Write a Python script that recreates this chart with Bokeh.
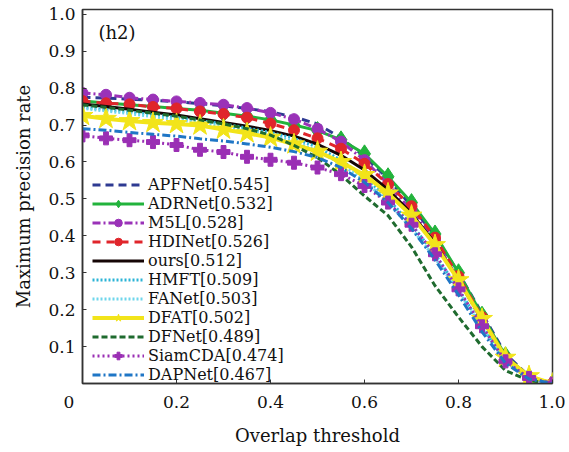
from bokeh.plotting import figure
from bokeh.models import Range1d, Label, Legend, LegendItem, FixedTicker, NumeralTickFormatter
from bokeh.embed import file_html
from bokeh.resources import INLINE

thresholds = [0.0, 0.05, 0.1, 0.15, 0.2, 0.25, 0.3, 0.35, 0.4, 0.45, 0.5,
              0.55, 0.6, 0.65, 0.7, 0.75, 0.8, 0.85, 0.9, 0.95, 1.0]

apfnet = [0.775, 0.773, 0.770, 0.767, 0.763, 0.758, 0.752, 0.745, 0.736, 0.722, 0.703,
          0.665, 0.615, 0.555, 0.480, 0.400, 0.300, 0.190, 0.080, 0.020, 0.0]
adrnet = [0.765, 0.760, 0.755, 0.750, 0.745, 0.740, 0.732, 0.724, 0.714, 0.700, 0.685,
          0.660, 0.622, 0.560, 0.490, 0.405, 0.300, 0.185, 0.075, 0.018, 0.0]
m5l = [0.787, 0.782, 0.774, 0.769, 0.764, 0.760, 0.755, 0.746, 0.733, 0.716, 0.690,
       0.655, 0.605, 0.540, 0.467, 0.390, 0.280, 0.170, 0.065, 0.017, 0.0]
hdinet = [0.765, 0.759, 0.756, 0.749, 0.745, 0.737, 0.730, 0.720, 0.704, 0.686, 0.664,
          0.636, 0.595, 0.540, 0.480, 0.395, 0.290, 0.180, 0.070, 0.017, 0.0]
ours = [0.757, 0.750, 0.743, 0.735, 0.727, 0.717, 0.707, 0.697, 0.685, 0.670, 0.648,
        0.618, 0.578, 0.525, 0.460, 0.380, 0.280, 0.175, 0.070, 0.018, 0.0]
hmft = [0.748, 0.742, 0.735, 0.728, 0.720, 0.712, 0.703, 0.692, 0.680, 0.664, 0.640,
        0.605, 0.560, 0.500, 0.430, 0.350, 0.255, 0.155, 0.060, 0.015, 0.0]
fanet = [0.745, 0.738, 0.731, 0.723, 0.715, 0.706, 0.697, 0.686, 0.673, 0.655, 0.630,
         0.595, 0.550, 0.490, 0.420, 0.340, 0.250, 0.150, 0.058, 0.014, 0.0]
dfat = [0.725, 0.717, 0.711, 0.706, 0.703, 0.699, 0.688, 0.678, 0.666, 0.648, 0.628,
        0.600, 0.565, 0.515, 0.455, 0.375, 0.280, 0.175, 0.070, 0.020, 0.0]
dfnet = [0.755, 0.748, 0.740, 0.732, 0.724, 0.714, 0.703, 0.690, 0.673, 0.645, 0.612,
         0.565, 0.508, 0.455, 0.370, 0.265, 0.180, 0.100, 0.035, 0.008, 0.0]
siamcda = [0.672, 0.664, 0.659, 0.654, 0.646, 0.633, 0.627, 0.614, 0.606, 0.598, 0.585,
           0.567, 0.535, 0.490, 0.430, 0.350, 0.255, 0.155, 0.060, 0.015, 0.0]
dapnet = [0.690, 0.686, 0.680, 0.675, 0.670, 0.663, 0.657, 0.649, 0.640, 0.628, 0.612,
          0.585, 0.545, 0.490, 0.420, 0.335, 0.240, 0.140, 0.055, 0.012, 0.0]

labels = ["APFNet[0.545]", "ADRNet[0.532]", "M5L[0.528]", "HDINet[0.526]", "ours[0.512]",
          "HMFT[0.509]", "FANet[0.503]", "DFAT[0.502]", "DFNet[0.489]", "SiamCDA[0.474]",
          "DAPNet[0.467]"]
series = [apfnet, adrnet, m5l, hdinet, ours, hmft, fanet, dfat, dfnet, siamcda, dapnet]

x_ticks = [0.0, 0.2, 0.4, 0.6, 0.8, 1.0]
y_ticks = [0.1, 0.2, 0.3, 0.4, 0.5, 0.6, 0.7, 0.8, 0.9, 1.0]
origin_label = "0" + "\u00a0" * 5   # corner "0", padded so it sits left of the axis

# style: color, dash, width, marker, marker size
styles = [
    ("#2e3a92", "8 5", 3, None, 0),
    ("#22b33c", "solid", 3, "diamond", 18),
    ("#9a32b8", "8 3 2 3", 3, "circle", 11),
    ("#e0252b", "8 6", 3, "circle", 11),
    ("#150505", "solid", 3, None, 0),
    ("#2bb3d6", "2 2", 3, None, 0),
    ("#6fd6ec", "2 2", 3, None, 0),
    ("#f2e41a", "solid", 4, "star", 22),
    ("#1f6b2f", "6 3", 3, None, 0),
    ("#9a2fb4", "2 3", 3, "plus", 13),
    ("#1f76c6", "8 3 2 3", 3, None, 0),
]

FONT = "DejaVu Serif"

p = figure(width=565, height=448, output_backend="svg", toolbar_location=None,
           x_range=Range1d(0, 1.0), y_range=Range1d(0, 1.013),
           min_border_left=82, min_border_right=13, min_border_top=9, min_border_bottom=57)
p.grid.visible = False
p.outline_line_color = "#333333"
p.outline_line_width = 1.5

items = []
for lab, ys, (col, dash, lw, mk, ms) in zip(labels, series, styles):
    rs = [p.line(thresholds, ys, line_color=col, line_width=lw, line_dash=dash)]
    if mk is not None:
        rs.append(p.scatter(thresholds, ys, marker=mk, size=ms, fill_color=col,
                            line_color=col, line_width=1))
    items.append(LegendItem(label=lab, renderers=rs))

legend = Legend(items=items, location=(10, -1), margin=0, padding=0, spacing=0,
                glyph_width=52, glyph_height=19, label_height=19, label_standoff=4,
                label_text_font=FONT, label_text_font_size="16px",
                label_text_line_height=1.0,
                label_text_color="#111111",
                border_line_color=None, background_fill_alpha=0)
p.add_layout(legend, "center")

for ax in (p.xaxis[0], p.yaxis[0]):
    ax.major_label_text_font = FONT
    ax.major_label_text_font_size = "17px"
    ax.major_label_text_color = "#111111"
    ax.axis_label_text_font = FONT
    ax.axis_label_text_font_size = "18px"
    ax.axis_label_text_font_style = "normal"
    ax.axis_label_text_color = "#111111"
    ax.major_tick_in = 4
    ax.major_tick_out = 0
    ax.minor_tick_line_color = None
    ax.axis_line_color = "#333333"
    ax.axis_line_width = 1.5
    ax.major_tick_line_color = "#333333"
    ax.formatter = NumeralTickFormatter(format="0.0")

p.xaxis[0].ticker = FixedTicker(ticks=x_ticks)
p.yaxis[0].ticker = FixedTicker(ticks=y_ticks)
p.xaxis[0].major_label_overrides = {0: origin_label}
p.xaxis[0].axis_label = "Overlap threshold"
p.yaxis[0].axis_label = "Maximum precision rate"
p.xaxis[0].major_label_standoff = 8
p.xaxis[0].axis_label_standoff = 10
p.yaxis[0].major_label_standoff = 7
p.yaxis[0].axis_label_standoff = 11

p.add_layout(Label(x=0.034, y=0.95, text="(h2)", text_font=FONT,
                   text_font_size="18px", text_align="left", text_baseline="middle",
                   text_color="#111111"))

open("out.html", "w").write(file_html(p, INLINE))
